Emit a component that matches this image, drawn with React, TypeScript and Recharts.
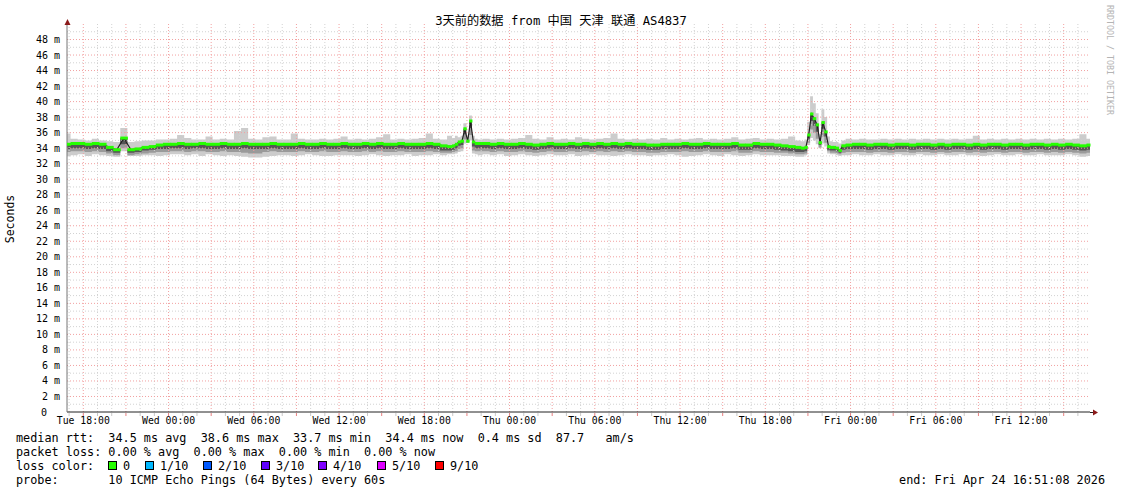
import React from "react";
import { ComposedChart, Area, Line, XAxis, YAxis, ReferenceLine } from "recharts";

// time axis: hours since start (Tue 16:51)
const hours = [
  0, 0.5, 1, 1.5, 2, 2.5, 3, 3.5, 4, 4.5,
  5, 5.5, 6, 6.5, 7, 7.5, 8, 8.5, 9, 9.5,
  10, 10.5, 11, 11.5, 12, 12.5, 13, 13.5, 14, 14.5,
  15, 15.5, 16, 16.5, 17, 17.5, 18, 18.5, 19, 19.5,
  20, 20.5, 21, 21.5, 22, 22.5, 23, 23.5, 24, 24.5,
  25, 25.5, 26, 26.5, 27,
  27.2, 27.4, 27.6, 27.8, 28, 28.2, 28.4, 28.6, 28.8, 29,
  29.5, 30, 30.5, 31, 31.5, 32, 32.5, 33, 33.5, 34,
  34.5, 35, 35.5, 36, 36.5, 37, 37.5, 38, 38.5, 39,
  39.5, 40, 40.5, 41, 41.5, 42, 42.5, 43, 43.5, 44,
  44.5, 45, 45.5, 46, 46.5, 47, 47.5, 48, 48.5, 49,
  49.5, 50, 50.5, 51, 51.5,
  51.8, 52, 52.2, 52.4, 52.6, 52.8, 53, 53.2, 53.4, 53.6, 53.8, 54, 54.2, 54.4, 54.6,
  55, 55.5, 56, 56.5, 57, 57.5, 58, 58.5, 59, 59.5,
  60, 60.5, 61, 61.5, 62, 62.5, 63, 63.5, 64, 64.5,
  65, 65.5, 66, 66.5, 67, 67.5, 68, 68.5, 69, 69.5,
  70, 70.5, 71, 71.5, 72,
];

const median = [
  34.5, 34.6, 34.6, 34.5, 34.6, 34.5, 34.1, 33.8, 35.3, 33.8,
  33.9, 34.1, 34.2, 34.4, 34.5, 34.5, 34.6, 34.5, 34.5, 34.6,
  34.5, 34.5, 34.6, 34.5, 34.5, 34.6, 34.5, 34.5, 34.5, 34.6,
  34.5, 34.5, 34.5, 34.6, 34.5, 34.5, 34.6, 34.5, 34.5, 34.6,
  34.5, 34.5, 34.6, 34.5, 34.6, 34.5, 34.5, 34.6, 34.5, 34.5,
  34.5, 34.6, 34.5, 34.3, 34.2,
  34.3, 34.5, 34.8, 34.9, 36.5, 34.9, 37.5, 34.8, 34.6, 34.6,
  34.6, 34.5, 34.6, 34.5, 34.5, 34.6, 34.5, 34.4, 34.5, 34.6,
  34.5, 34.5, 34.6, 34.5, 34.6, 34.5, 34.6, 34.5, 34.6, 34.5,
  34.6, 34.5, 34.5, 34.4, 34.4, 34.5, 34.5, 34.5, 34.6, 34.5,
  34.5, 34.6, 34.5, 34.5, 34.5, 34.6, 34.4, 34.4, 34.6, 34.5,
  34.5, 34.4, 34.3, 34.2, 34.1,
  34.0, 34.1, 35.7, 38.4, 37.8, 37.0, 34.7, 37.3, 36.1, 34.2, 34.1, 34.1, 34.0, 33.7, 34.3,
  34.4, 34.5, 34.5, 34.4, 34.5, 34.5, 34.4, 34.5, 34.5, 34.4,
  34.5, 34.5, 34.4, 34.5, 34.4, 34.5, 34.5, 34.4, 34.5, 34.4,
  34.5, 34.5, 34.4, 34.5, 34.5, 34.4, 34.5, 34.5, 34.4, 34.5,
  34.4, 34.5, 34.4, 34.3, 34.4,
];

const smokeMax = [
  35.9, 35.2, 35.1, 35.0, 35.2, 35.0, 34.9, 34.8, 36.6, 34.8,
  34.9, 35.0, 35.0, 35.1, 35.1, 35.2, 35.7, 35.3, 35.1, 35.1,
  35.5, 35.1, 35.2, 35.1, 36.2, 36.6, 35.2, 35.1, 35.4, 35.5,
  35.1, 35.1, 35.9, 35.2, 35.1, 35.1, 35.2, 35.1, 35.2, 35.5,
  35.1, 35.2, 35.1, 35.2, 35.4, 35.8, 35.1, 35.2, 35.1, 35.2,
  35.3, 35.9, 35.2, 35.1, 35.6,
  35.3, 35.6, 35.4, 35.6, 37.2, 35.5, 38.2, 35.6, 35.2, 35.1,
  35.2, 35.1, 35.2, 35.1, 35.2, 35.3, 35.7, 35.2, 35.1, 35.4,
  35.1, 35.2, 35.1, 35.4, 35.2, 35.1, 35.2, 35.3, 35.9, 35.2,
  35.1, 35.2, 35.1, 35.2, 35.1, 35.3, 35.1, 35.2, 35.1, 35.2,
  35.3, 35.1, 35.2, 35.1, 35.2, 35.4, 35.1, 35.2, 35.3, 35.1,
  35.2, 35.1, 35.2, 35.5, 35.0,
  34.9, 35.1, 37.4, 40.7, 39.8, 38.5, 35.8, 39.0, 38.0, 35.5, 34.9, 34.8, 34.8, 34.6, 35.0,
  35.2, 35.1, 35.2, 35.1, 35.1, 35.2, 35.1, 35.2, 35.1, 35.2,
  35.1, 35.2, 35.1, 35.2, 35.1, 35.2, 35.1, 35.2, 35.6, 35.1,
  35.2, 35.1, 35.2, 35.1, 35.2, 35.1, 35.2, 35.1, 35.2, 35.1,
  35.2, 35.1, 35.2, 35.8, 35.2,
];

const smokeMin = [
  33.0, 33.1, 33.2, 33.0, 33.2, 33.1, 33.0, 32.9, 33.6, 33.0,
  33.0, 33.1, 33.1, 33.0, 33.1, 33.2, 33.2, 33.1, 33.2, 33.0,
  33.2, 33.1, 33.0, 33.1, 33.0, 32.9, 32.8, 32.8, 32.9, 33.0,
  33.1, 33.1, 33.0, 33.1, 33.2, 33.1, 33.0, 33.0, 33.1, 33.1,
  33.1, 33.0, 33.1, 33.2, 33.1, 33.0, 33.1, 33.1, 33.2, 33.0,
  33.1, 33.1, 33.2, 33.1, 33.2,
  33.2, 33.3, 33.5, 33.6, 34.6, 34.7, 35.0, 33.3, 33.2, 33.1,
  33.2, 33.1, 33.2, 33.0, 33.1, 33.2, 33.1, 33.0, 33.1, 33.2,
  33.1, 33.1, 33.2, 33.0, 33.1, 33.2, 33.1, 33.1, 33.0, 33.1,
  33.2, 33.1, 33.1, 33.0, 33.1, 33.1, 33.2, 33.1, 32.9, 33.0,
  33.1, 33.2, 33.1, 33.0, 33.2, 33.1, 33.0, 33.1, 33.2, 33.1,
  33.1, 33.1, 33.0, 33.0, 32.9,
  32.9, 33.1, 34.4, 35.3, 35.0, 34.5, 34.0, 34.6, 34.2, 33.3, 33.2, 33.2, 33.1, 33.0, 33.1,
  33.1, 33.2, 33.1, 33.1, 33.2, 33.1, 33.1, 33.2, 33.1, 33.1,
  33.2, 33.1, 33.1, 33.2, 33.1, 33.1, 33.2, 33.1, 33.1, 33.0,
  33.1, 33.2, 33.1, 33.1, 33.2, 33.1, 33.1, 33.2, 33.1, 33.1,
  33.1, 33.2, 33.1, 32.9, 33.0,
];

// lower edge of the middle grey of the smoke
const smokeMid = [
  33.5, 33.6, 33.6, 33.5, 33.6, 33.5, 33.3, 33.1, 34.0, 33.1,
  33.2, 33.3, 33.4, 33.5, 33.5, 33.6, 33.6, 33.5, 33.6, 33.6,
  33.5, 33.5, 33.6, 33.5, 33.5, 33.4, 33.3, 33.3, 33.5, 33.6,
  33.5, 33.5, 33.5, 33.6, 33.5, 33.5, 33.6, 33.5, 33.5, 33.6,
  33.5, 33.5, 33.6, 33.5, 33.6, 33.5, 33.5, 33.6, 33.5, 33.5,
  33.5, 33.6, 33.5, 33.4, 33.4,
  33.5, 33.6, 33.9, 34.0, 35.1, 34.7, 35.7, 33.7, 33.6, 33.6,
  33.6, 33.5, 33.6, 33.5, 33.5, 33.6, 33.5, 33.4, 33.5, 33.6,
  33.5, 33.5, 33.6, 33.5, 33.6, 33.5, 33.6, 33.5, 33.6, 33.5,
  33.6, 33.5, 33.5, 33.4, 33.4, 33.5, 33.5, 33.5, 33.6, 33.5,
  33.5, 33.6, 33.5, 33.5, 33.5, 33.6, 33.4, 33.4, 33.6, 33.5,
  33.5, 33.4, 33.4, 33.3, 33.2,
  33.2, 33.3, 34.7, 36.4, 36.0, 35.2, 34.1, 35.5, 34.7, 33.6, 33.4, 33.4, 33.3, 33.2, 33.4,
  33.5, 33.5, 33.5, 33.4, 33.5, 33.5, 33.4, 33.5, 33.5, 33.4,
  33.5, 33.5, 33.4, 33.5, 33.4, 33.5, 33.5, 33.4, 33.5, 33.4,
  33.5, 33.5, 33.4, 33.5, 33.5, 33.4, 33.5, 33.5, 33.4, 33.5,
  33.4, 33.5, 33.4, 33.3, 33.4,
];

// lower edge of the dark core of the smoke
const smokeLo = [
  33.9, 34.0, 34.0, 33.9, 34.0, 33.9, 33.6, 33.4, 34.5, 33.4,
  33.5, 33.7, 33.8, 33.9, 33.9, 34.0, 34.0, 33.9, 34.0, 34.0,
  33.9, 33.9, 34.0, 33.9, 33.9, 34.0, 33.9, 33.9, 33.9, 34.0,
  33.9, 33.9, 33.9, 34.0, 33.9, 33.9, 34.0, 33.9, 33.9, 34.0,
  33.9, 33.9, 34.0, 33.9, 34.0, 33.9, 33.9, 34.0, 33.9, 33.9,
  33.9, 34.0, 33.9, 33.7, 33.7,
  33.8, 34.0, 34.3, 34.4, 35.8, 34.8, 36.6, 34.2, 34.0, 34.0,
  34.0, 33.9, 34.0, 33.9, 33.9, 34.0, 33.9, 33.8, 33.9, 34.0,
  33.9, 33.9, 34.0, 33.9, 34.0, 33.9, 34.0, 33.9, 34.0, 33.9,
  34.0, 33.9, 33.9, 33.8, 33.8, 33.9, 33.9, 33.9, 34.0, 33.9,
  33.9, 34.0, 33.9, 33.9, 33.9, 34.0, 33.8, 33.8, 34.0, 33.9,
  33.9, 33.8, 33.7, 33.6, 33.5,
  33.5, 33.6, 35.2, 37.5, 36.9, 36.1, 34.4, 36.5, 35.5, 33.8, 33.7, 33.7, 33.6, 33.4, 33.8,
  33.9, 33.9, 33.9, 33.8, 33.9, 33.9, 33.8, 33.9, 33.9, 33.8,
  33.9, 33.9, 33.8, 33.9, 33.8, 33.9, 33.9, 33.8, 33.9, 33.8,
  33.9, 33.9, 33.8, 33.9, 33.9, 33.8, 33.9, 33.9, 33.8, 33.9,
  33.8, 33.9, 33.8, 33.7, 33.8,
];

const xTicks = [1.15, 7.15, 13.15, 19.15, 25.15, 31.15, 37.15, 43.15, 49.15, 55.15, 61.15, 67.15];
const xTickLabels = [
  "Tue 18:00", "Wed 00:00", "Wed 06:00", "Wed 12:00", "Wed 18:00", "Thu 00:00",
  "Thu 06:00", "Thu 12:00", "Thu 18:00", "Fri 00:00", "Fri 06:00", "Fri 12:00",
];
const yTicks = [0, 2, 4, 6, 8, 10, 12, 14, 16, 18, 20, 22, 24, 26, 28, 30, 32, 34, 36, 38, 40, 42, 44, 46, 48];

const lossColors = ["#26ff00", "#00b8ff", "#0059ff", "#5e00ff", "#7e00ff", "#dd00ff", "#ff0000"];
const lossLabels = ["0", "1/10", "2/10", "3/10", "4/10", "5/10", "9/10"];

const W = 1121;
const H = 494;
const LEFT = 67;
const RIGHT = 1090;
const TOP = 24;
const BOTTOM = 412;
const PX_PER_HOUR = (RIGHT - LEFT) / 72;
const MONO = '"DejaVu Sans Mono", monospace';

const rows = hours.map((h, i) => ({
  h,
  median: median[i],
  max: smokeMax[i],
  min: smokeMin[i],
  mid: smokeMid[i],
  lo: smokeLo[i],
}));

// grid: every hour (grey), every 3 hours (red); every 1 ms (grey), every 2 ms (red)
const hourGrid = Array.from({ length: 72 }, (_, k) => 0.148 + k);
const msGrid = Array.from({ length: 49 }, (_, k) => k + 1);

// keep runs of spaces in svg text
const pre = (s: string) => s.replace(/ /g, "\u00a0");

const MedianDot = (props: any) => {
  const { cx, cy, index } = props;
  if (cx == null || cy == null) return <g key={`md${index}`} />;
  const prev = index > 0 ? hours[index - 1] : hours[index];
  const next = index < hours.length - 1 ? hours[index + 1] : hours[index];
  const left = ((hours[index] - prev) / 2) * PX_PER_HOUR;
  const right = ((next - hours[index]) / 2) * PX_PER_HOUR;
  return <rect key={`md${index}`} x={cx - left} y={cy - 1.5} width={left + right + 0.5} height={3} fill="#26ff00" />;
};

const XTick = (props: any) => {
  const { x, y, index } = props;
  return (
    <text x={x} y={y + 12} textAnchor="middle" fontFamily={MONO} fontSize={9.8} fill="#000" stroke="none">
      {xTickLabels[index]}
    </text>
  );
};

const YTick = (props: any) => {
  const { x, y, payload } = props;
  const v = payload.value;
  return (
    <text x={v === 0 ? x - 20 : x - 7} y={y + 3.5} textAnchor="end" fontFamily={MONO} fontSize={10} fill="#000" stroke="none">
      {v === 0 ? "0" : `${v} m`}
    </text>
  );
};

export default function App() {
  return (
    <div style={{ position: "absolute", left: 0, top: 0, width: W, height: H, background: "#fff" }}>
      <ComposedChart
        width={W}
        height={H}
        data={rows}
        margin={{ top: TOP, right: W - RIGHT, left: LEFT - 1, bottom: H - BOTTOM - 1 }}
      >
        <XAxis
          dataKey="h"
          type="number"
          domain={[0, 72]}
          ticks={xTicks}
          height={1}
          tickSize={0}
          tickMargin={0}
          tick={<XTick />}
          axisLine={{ stroke: "#222" }}
          interval={0}
        />
        <YAxis
          type="number"
          domain={[0, 50]}
          ticks={yTicks}
          width={1}
          tickSize={0}
          tickMargin={0}
          tick={<YTick />}
          axisLine={{ stroke: "#777" }}
          interval={0}
          allowDataOverflow
        />
        {hourGrid.map((h, k) => (
          <ReferenceLine
            key={`vx${k}`}
            x={h}
            stroke={k % 3 === 1 ? "#f2a0a0" : "#d2d2d2"}
            strokeDasharray="1 2"
          />
        ))}
        {msGrid.map((v) => (
          <ReferenceLine
            key={`hy${v}`}
            y={v}
            stroke={v % 2 === 0 ? "#f2a0a0" : "#d2d2d2"}
            strokeDasharray="1 2"
          />
        ))}
        <Area
          dataKey={(d: any) => [d.min, d.max]}
          type="step"
          fill="#cccccc"
          fillOpacity={1}
          stroke="none"
          isAnimationActive={false}
        />
        <Area
          dataKey={(d: any) => [d.mid, d.median]}
          type="step"
          fill="#9a9a9a"
          fillOpacity={1}
          stroke="none"
          isAnimationActive={false}
        />
        <Area
          dataKey={(d: any) => [d.lo, d.median]}
          type="step"
          fill="#555555"
          fillOpacity={1}
          stroke="none"
          isAnimationActive={false}
        />
        <Line dataKey="median" type="linear" stroke="#222" strokeWidth={1.2} dot={false} isAnimationActive={false} />
        <Line dataKey="median" type="linear" stroke="none" dot={MedianDot} activeDot={false} isAnimationActive={false} />
      </ComposedChart>

      <svg width={W} height={H} style={{ position: "absolute", left: 0, top: 0, pointerEvents: "none" }}>
        <text
          x={561}
          y={25}
          textAnchor="middle"
          fontFamily={'"DejaVu Sans Mono", "Noto Sans CJK SC", monospace'}
          fontSize={12.2}
          fill="#000"
        >
          {pre("3天前的数据 from 中国 天津 联通 AS4837")}
        </text>
        <text
          x={14}
          y={219}
          textAnchor="middle"
          fontFamily={MONO}
          fontSize={11.5}
          fill="#000"
          transform="rotate(-90 14 219)"
        >
          Seconds
        </text>
        <text
          x={1107}
          y={5}
          fontFamily={MONO}
          fontSize={8.3}
          fill="#b4b4b4"
          transform="rotate(90 1107 5)"
        >
          {pre("RRDTOOL / TOBI OETIKER")}
        </text>
        {/* small tick marks under the time axis */}
        {hourGrid.map((h, k) => (
          <line
            key={`tk${k}`}
            x1={LEFT + h * PX_PER_HOUR}
            x2={LEFT + h * PX_PER_HOUR}
            y1={BOTTOM + 1}
            y2={BOTTOM + 4}
            stroke={k % 3 === 1 ? "#e88080" : "#c8c8c8"}
          />
        ))}
        <line x1={RIGHT} y1={BOTTOM + 0.5} x2={1094} y2={BOTTOM + 0.5} stroke="#222" />
        <polygon points="1093,409.5 1098,412.5 1093,415.5" fill="#8b1a1a" />
        <line x1={LEFT + 0.5} y1={TOP} x2={LEFT + 0.5} y2={22} stroke="#777" />
        <polygon points="64.5,25 67.5,19 70.5,25" fill="#8b1a1a" />

        <g fontFamily={MONO} fontSize={11.8} fill="#000">
          <text x={16} y={442}>{pre("median rtt:  34.5 ms avg  38.6 ms max  33.7 ms min  34.4 ms now  0.4 ms sd  87.7   am/s")}</text>
          <text x={16} y={456}>{pre("packet loss: 0.00 % avg  0.00 % max  0.00 % min  0.00 % now")}</text>
          <text x={16} y={470}>{pre("loss color:")}</text>
          <text x={16} y={484}>{pre("probe:       10 ICMP Echo Pings (64 Bytes) every 60s")}</text>
          <text x={1105} y={484} textAnchor="end">{pre("end: Fri Apr 24 16:51:08 2026")}</text>
        </g>
        {lossColors.map((c, i) => {
          const bx = [108, 145, 203, 261, 318, 377, 435][i];
          return (
            <g key={c}>
              <rect x={bx + 0.5} y={461.5} width={8} height={8} fill={c} stroke="#000" />
              <text x={bx + 15} y={470} fontFamily={MONO} fontSize={11.8} fill="#000">
                {lossLabels[i]}
              </text>
            </g>
          );
        })}
      </svg>
    </div>
  );
}
